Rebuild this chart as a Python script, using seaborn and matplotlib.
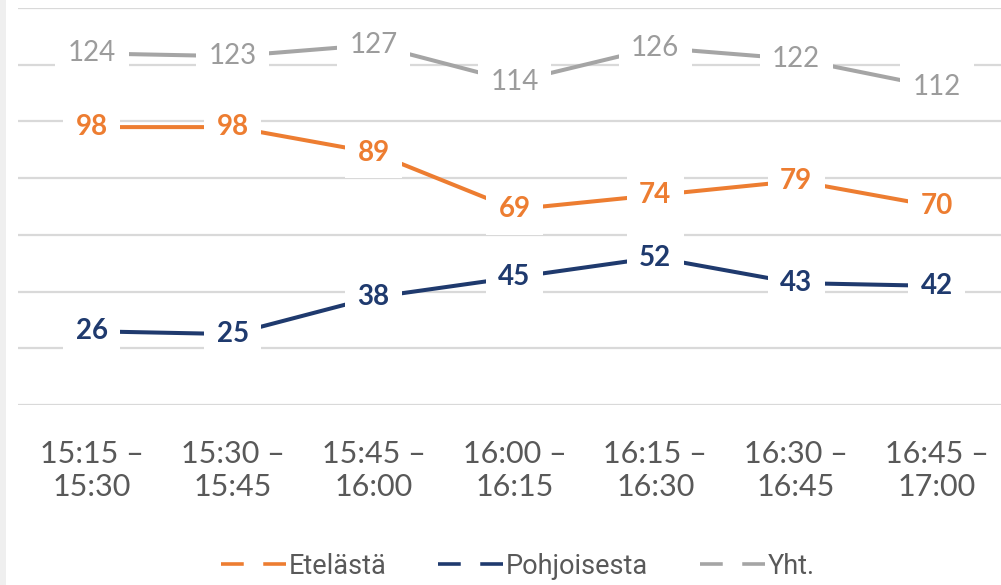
import matplotlib
matplotlib.use("Agg")
import matplotlib.pyplot as plt
import matplotlib.patches as mpatches
from matplotlib.lines import Line2D
import seaborn as sns
import pandas as pd

# Time slots (15-minute intervals)
periods = ["15:15 –\n15:30", "15:30 –\n15:45", "15:45 –\n16:00", "16:00 –\n16:15",
           "16:15 –\n16:30", "16:30 –\n16:45", "16:45 –\n17:00"]
series_names = ["Etelästä", "Pohjoisesta", "Yht."]
etelasta = [98, 98, 89, 69, 74, 79, 70]
pohjoisesta = [26, 25, 38, 45, 52, 43, 42]
yhteensa = [124, 123, 127, 114, 126, 122, 112]
colors = ["#ED7D31", "#1F3A6E", "#A5A5A5"]
label_colors = ["#ED7D31", "#1F3A6E", "#9C9C9C"]

df = pd.DataFrame({
    "jakso": list(range(len(periods))) * 3,
    "arvo": etelasta + pohjoisesta + yhteensa,
    "suunta": [series_names[0]] * 7 + [series_names[1]] * 7 + [series_names[2]] * 7,
})

sns.set_theme(style="white")
plt.rcParams["font.family"] = ["Lato", "DejaVu Sans"]

W, H = 1001, 585
fig = plt.figure(figsize=(W / 100, H / 100), dpi=100)
fig.patch.set_facecolor("white")

# axes placed in pixel units: left 18, right 1001, y=0 at 405, y=140 at 8
ax = fig.add_axes([18 / W, (H - 405) / H, (1001 - 18) / W, (405 - 8) / H])
ax.set_facecolor("white")

sns.lineplot(data=df, x="jakso", y="arvo", hue="suunta", hue_order=series_names,
             palette=colors, linewidth=2.9, legend=False, ax=ax, zorder=3)

ax.set_xlim(-0.525, 6.455)
ax.set_ylim(0, 140)
ax.set_yticks(range(0, 141, 20))
ax.yaxis.grid(True, color="#D9D9D9", linewidth=1.6)
ax.set_axisbelow(True)
ax.tick_params(axis="y", left=False, labelleft=False)
ax.tick_params(axis="x", bottom=False, pad=19)
ax.set_xticks(range(len(periods)))
ax.set_xticklabels(periods, fontsize=22, color="#595959", linespacing=1.25)
ax.set_xlabel("")
ax.set_ylabel("")
for s in ax.spines.values():
    s.set_visible(False)

# value labels on white boxes that interrupt the lines
for vals, col in zip([etelasta, pohjoisesta, yhteensa], label_colors):
    for i, v in enumerate(vals):
        ax.text(i, v, str(v), ha="center", va="center", fontsize=20,
                fontweight="normal" if col == label_colors[2] else "bold",
                color=col, zorder=5,
                bbox=dict(boxstyle="square,pad=0.45", fc="white", ec="none"))

# legend: two short dashes in front of each name
handles = [Line2D([0], [0], color=c, linewidth=2.6, linestyle=(0, (6.3, 5.4)))
           for c in colors]
leg = fig.legend(handles, series_names, loc="center", bbox_to_anchor=(518 / W, (H - 566) / H),
                 ncol=3, frameon=False, handlelength=2.45, handletextpad=0.05,
                 columnspacing=1.9,
                 prop={"family": ["Roboto", "DejaVu Sans"], "size": 19.5})
for t in leg.get_texts():
    t.set_color("#595959")

# thin grey strip along the left border
fig.patches.append(mpatches.Rectangle((0, 0), 6 / W, 1, transform=fig.transFigure,
                                      fc="#EFEFEF", ec="none", zorder=0))

fig.savefig("out.png", dpi=100)
